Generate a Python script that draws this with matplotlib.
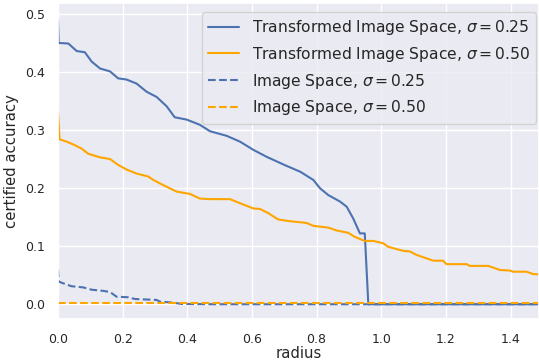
import matplotlib
matplotlib.use("Agg")
import matplotlib.pyplot as plt
import seaborn as sns

sns.set_theme(style="darkgrid")
plt.rcParams['font.family'] = ['DejaVu Sans']

# Transformed image space, sigma = 0.25
r_t25 = [0.0, 0.002, 0.032, 0.058, 0.083, 0.104, 0.130, 0.161, 0.186, 0.212, 0.243,
         0.274, 0.305, 0.336, 0.361, 0.398, 0.439, 0.470, 0.522, 0.563, 0.604, 0.645,
         0.700, 0.750, 0.790, 0.810, 0.836, 0.872, 0.893, 0.913, 0.934, 0.949, 0.960, 1.5]
a_t25 = [0.489, 0.450, 0.449, 0.436, 0.434, 0.418, 0.406, 0.401, 0.389, 0.387, 0.380,
         0.366, 0.357, 0.341, 0.322, 0.318, 0.309, 0.298, 0.290, 0.280, 0.266, 0.254,
         0.240, 0.228, 0.214, 0.200, 0.188, 0.177, 0.168, 0.148, 0.122, 0.122, 0.0, 0.0]

# Transformed image space, sigma = 0.50
r_t50 = [0.0, 0.005, 0.027, 0.052, 0.073, 0.094, 0.130, 0.161, 0.186, 0.212, 0.243,
         0.279, 0.295, 0.326, 0.367, 0.408, 0.439, 0.470, 0.532, 0.563, 0.604, 0.625,
         0.650, 0.681, 0.717, 0.769, 0.790, 0.836, 0.862, 0.898, 0.918, 0.949, 0.975,
         1.006, 1.021, 1.047, 1.068, 1.088, 1.109, 1.140, 1.161, 1.191, 1.202, 1.264,
         1.274, 1.331, 1.367, 1.398, 1.408, 1.449, 1.470, 1.5]
a_t50 = [0.331, 0.284, 0.280, 0.274, 0.268, 0.259, 0.253, 0.250, 0.240, 0.232, 0.225,
         0.220, 0.214, 0.205, 0.194, 0.190, 0.182, 0.181, 0.181, 0.174, 0.165, 0.164,
         0.157, 0.146, 0.143, 0.140, 0.135, 0.132, 0.127, 0.123, 0.116, 0.109, 0.109,
         0.105, 0.099, 0.095, 0.092, 0.091, 0.085, 0.079, 0.075, 0.075, 0.069, 0.069,
         0.066, 0.066, 0.059, 0.058, 0.056, 0.056, 0.052, 0.051]

# Image space, sigma = 0.25
r_i25 = [0.0, 0.002, 0.021, 0.042, 0.078, 0.104, 0.140, 0.161, 0.181, 0.217, 0.238,
         0.305, 0.315, 0.351, 0.382, 0.480, 1.5]
a_i25 = [0.060, 0.039, 0.035, 0.031, 0.029, 0.025, 0.023, 0.021, 0.013, 0.012, 0.009,
         0.0074, 0.0045, 0.003, 0.0005, 0.0, 0.0]

# Image space, sigma = 0.50
r_i50 = [0.0, 1.5]
a_i50 = [0.002, 0.002]

labels = [r"Transformed Image Space, $\sigma = 0.25$",
          r"Transformed Image Space, $\sigma = 0.50$",
          r"Image Space, $\sigma = 0.25$",
          r"Image Space, $\sigma = 0.50$"]

blue = "#4C72B0"
orange = "#FFA500"

fig = plt.figure(figsize=(5.39, 3.6), dpi=100)
ax = fig.add_axes([0.1076, 0.113, 0.8924, 0.879])

ax.plot(r_t25, a_t25, color=blue, lw=1.5, label=labels[0])
ax.plot(r_t50, a_t50, color=orange, lw=1.5, label=labels[1])
ax.plot(r_i25, a_i25, color=blue, lw=1.5, ls="--", label=labels[2])
ax.plot(r_i50, a_i50, color=orange, lw=1.5, ls="--", label=labels[3])

ax.set_xlim(0, 1.488)
ax.set_ylim(-0.026, 0.519)
ax.set_xticks([0.0, 0.2, 0.4, 0.6, 0.8, 1.0, 1.2, 1.4])
ax.set_yticks([0.0, 0.1, 0.2, 0.3, 0.4, 0.5])
ax.tick_params(labelsize=9)
ax.set_xlabel("radius", fontsize=10.7, labelpad=0.5)
ax.set_ylabel("certified accuracy", fontsize=10.7, labelpad=4)

ax.legend(loc="upper right", fontsize=11.2, bbox_to_anchor=(1.01, 0.996))

fig.savefig("out.png", dpi=100)
